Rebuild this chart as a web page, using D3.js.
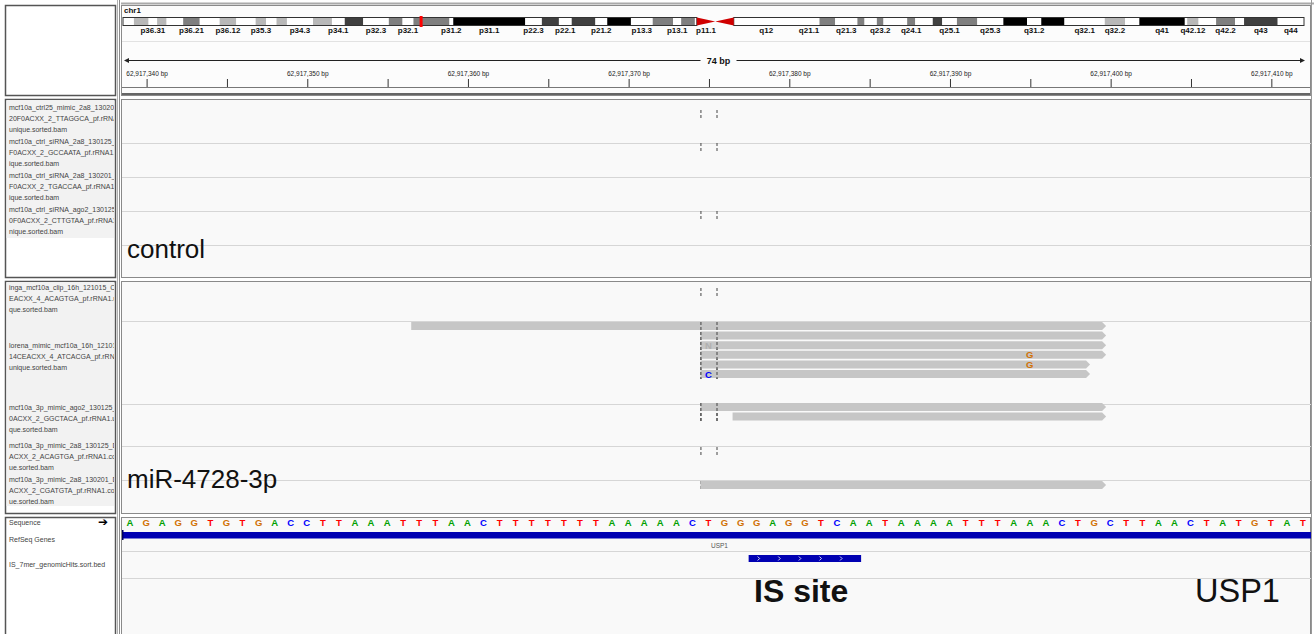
<!DOCTYPE html>
<html>
<head>
<meta charset="utf-8">
<script src="https://cdn.jsdelivr.net/npm/d3@7.9.0/dist/d3.min.js"></script>
<style>
  body { margin: 0; background: #fff; }
  svg { display: block; font-family: "Liberation Sans", Arial, sans-serif; }
</style>
</head>
<body>
<svg id="igv" width="1314" height="634"></svg>
<script>
// chr1 cytobands (hg19), Mb
const bandNames = ['p36.33','p36.32','p36.31','p36.23','p36.22','p36.21','p36.13','p36.12','p36.11','p35.3','p35.2','p35.1','p34.3','p34.2','p34.1','p33','p32.3','p32.2','p32.1','p31.3','p31.2','p31.1','p22.3','p22.2','p22.1','p21.3','p21.2','p21.1','p13.3','p13.2','p13.1','p12','p11.2','p11.1','q11','q12','q21.1','q21.2','q21.3','q22','q23.1','q23.2','q23.3','q24.1','q24.2','q24.3','q25.1','q25.2','q25.3','q31.1','q31.2','q31.3','q32.1','q32.2','q32.3','q41','q42.11','q42.12','q42.13','q42.2','q42.3','q43','q44'];
const bandStarts = [0,2.3,5.4,7.2,9.2,12.7,16.2,20.4,23.9,28,30.2,32.4,34.6,40.1,44.1,46.8,50.7,56.1,59,61.3,68.9,69.7,84.9,88.4,92,94.7,99.7,102.2,107.2,111.8,116.1,117.8,120.7,121.1,125,128.9,142.6,147,150.3,155,156.5,159.1,160.5,165.5,167.2,170.9,172.9,176,180.3,185.8,190.8,193.8,198.7,207.2,211.5,214.5,224.1,224.6,227,230.7,234.7,236.6,243.7];
const bandStains = ['gneg','gpos25','gneg','gpos25','gneg','gpos50','gneg','gpos25','gneg','gpos25','gneg','gpos25','gneg','gpos25','gneg','gpos75','gneg','gpos50','gneg','gpos50','gneg','gpos100','gneg','gpos75','gneg','gpos75','gneg','gpos100','gneg','gpos50','gneg','gpos50','gneg','acen','acen','gvar','gneg','gpos50','gneg','gpos50','gneg','gpos50','gneg','gpos50','gneg','gpos75','gneg','gpos50','gneg','gpos100','gneg','gpos100','gneg','gpos25','gneg','gpos100','gneg','gpos25','gneg','gpos50','gneg','gpos75','gneg'];
const chrLength = 249.250621;
const shownBandLabels = ['p36.31','p36.21','p36.12','p35.3','p34.3','p34.1','p32.3','p32.1','p31.2','p31.1','p22.3','p22.1','p21.2','p13.3','p13.1','p11.1','q12','q21.1','q21.3','q23.2','q24.1','q25.1','q25.3','q31.2','q32.1','q32.2','q41','q42.12','q42.2','q43','q44'];
const viewMb = 62.917;

// locus
const viewStart = 62917339;
const viewBases = 74;
const sequence = 'AGAGGTGTGACCTTAAATTTAACTTTTTTTAAAAACTGGGAGGTCAATAAAATTTAAACTGCTTAACTATGTAT';
const majorTicks = [62917340, 62917350, 62917360, 62917370, 62917380, 62917390, 62917400, 62917410];
const minorTicks = [62917345, 62917355, 62917365, 62917375, 62917385, 62917395, 62917405];
const centerBase = 62917375;

// track names (wrapped as shown)
const controlNames = [
  ['mcf10a_ctrl25_mimic_2a8_130201_D', '20F0ACXX_2_TTAGGCA_pf.rRNA1.', 'unique.sorted.bam'],
  ['mcf10a_ctrl_siRNA_2a8_130125_D2', 'F0ACXX_2_GCCAATA_pf.rRNA1.un', 'ique.sorted.bam'],
  ['mcf10a_ctrl_siRNA_2a8_130201_D2', 'F0ACXX_2_TGACCAA_pf.rRNA1.un', 'ique.sorted.bam'],
  ['mcf10a_ctrl_siRNA_ago2_130125_D', '0F0ACXX_2_CTTGTAA_pf.rRNA1.u', 'nique.sorted.bam']
];
const mirNames = [
  ['inga_mcf10a_clip_16h_121015_C1', 'EACXX_4_ACAGTGA_pf.rRNA1.uni', 'que.sorted.bam'],
  ['lorena_mimic_mcf10a_16h_121015_', '14CEACXX_4_ATCACGA_pf.rRNA1.', 'unique.sorted.bam'],
  ['mcf10a_3p_mimic_ago2_130125_D2', '0ACXX_2_GGCTACA_pf.rRNA1.uni', 'que.sorted.bam'],
  ['mcf10a_3p_mimic_2a8_130125_D20F', 'ACXX_2_ACAGTGA_pf.rRNA1.coniq', 'ue.sorted.bam'],
  ['mcf10a_3p_mimic_2a8_130201_D20F', 'ACXX_2_CGATGTA_pf.rRNA1.coniq', 'ue.sorted.bam']
];

// aligned reads in the miR-4728-3p tracks (end exclusive)
const readTrack = ['lorena', 'lorena', 'lorena', 'lorena', 'lorena', 'lorena', 'ago2', 'ago2', '2a8_0201'];
const readRow   = [0, 1, 2, 3, 4, 5, 0, 1, 0];
const readStart = [62917357, 62917375, 62917375, 62917375, 62917375, 62917375, 62917375, 62917377, 62917375];
const readEnd   = [62917400, 62917400, 62917400, 62917400, 62917399, 62917399, 62917400, 62917400, 62917400];
const mismatchRead = [2, 3, 4, 5];
const mismatchPos  = [62917375, 62917395, 62917395, 62917375];
const mismatchBase = ['N', 'G', 'G', 'C'];

// annotation features
const geneName = 'USP1';
const bedStart = 62917378;
const bedEnd = 62917385;

// ---------- layout ----------
const svg = d3.select('#igv');
const L = 122, R = 1311;
const x = d3.scaleLinear().domain([viewStart, viewStart + viewBases]).range([L, R]);
const bw = x(viewStart + 1) - x(viewStart);
const xi = d3.scaleLinear().domain([0, chrLength]).range([123, 1304]);

const baseColor = { A: '#00a000', C: '#0000ff', G: '#d17105', T: '#ff0000', N: '#b0b0b0' };
const stainColor = { gneg: '#ffffff', gvar: '#ffffff', gpos25: '#b8b8b8', gpos50: '#7f7f7f', gpos75: '#404040', gpos100: '#000000', acen: '#d00000' };

const panels = [
  { key: 'header', top: 5, bottom: 95 },
  { key: 'control', top: 99, bottom: 277 },
  { key: 'mir', top: 281, bottom: 513 },
  { key: 'seq', top: 517, bottom: 640 }
];

const defs = svg.append('defs');
defs.append('clipPath').attr('id', 'nameClip')
  .append('rect').attr('x', 6).attr('y', 0).attr('width', 108).attr('height', 634);
defs.append('clipPath').attr('id', 'dataClip')
  .append('rect').attr('x', L).attr('y', 0).attr('width', R - L).attr('height', 634);

// panel frames
panels.forEach((p) => {
  svg.append('rect').attr('x', 5.5).attr('y', p.top + 0.5).attr('width', 110).attr('height', p.bottom - p.top)
    .attr('fill', '#fff').attr('stroke', '#555').attr('stroke-width', 1.5);
  svg.append('rect').attr('x', 121.5).attr('y', p.top + 0.5).attr('width', 1189).attr('height', p.bottom - p.top)
    .attr('fill', p.key === 'header' ? '#fcfcfc' : '#f9f9f9').attr('stroke', '#8a8a8a').attr('stroke-width', 1);
});
svg.append('line').attr('x1', 117.5).attr('x2', 117.5).attr('y1', 0).attr('y2', 634).attr('stroke', '#b0b0b0');
svg.append('line').attr('x1', 119.5).attr('x2', 119.5).attr('y1', 0).attr('y2', 634).attr('stroke', '#8a8a8a');
svg.append('line').attr('x1', 121).attr('x2', 1314).attr('y1', 3.5).attr('y2', 3.5).attr('stroke', '#aaa').attr('stroke-width', 2);
svg.append('line').attr('x1', 1311.5).attr('x2', 1311.5).attr('y1', 0).attr('y2', 634).attr('stroke', '#999');

// ---------- ideogram ----------
const ideo = svg.append('g');
ideo.append('text').attr('x', 124).attr('y', 13).attr('font-size', 8).attr('font-weight', 'bold').attr('fill', '#111').text('chr1');
const bands = bandNames.map((n, i) => ({ name: n, start: bandStarts[i], end: i + 1 < bandStarts.length ? bandStarts[i + 1] : chrLength, stain: bandStains[i] }));
const by0 = 17.5, bh = 8;
ideo.selectAll('rect.band').data(bands.filter((b) => b.stain !== 'acen')).join('rect')
  .attr('class', 'band').attr('x', (d) => xi(d.start)).attr('y', by0)
  .attr('width', (d) => xi(d.end) - xi(d.start)).attr('height', bh)
  .attr('fill', (d) => stainColor[d.stain]);
const pArm = bands.find((b) => b.name === 'p11.1');
const qCen = bands.find((b) => b.name === 'q11');
ideo.append('rect').attr('x', xi(0)).attr('y', by0).attr('width', xi(pArm.start) - xi(0)).attr('height', bh)
  .attr('fill', 'none').attr('stroke', '#333');
ideo.append('rect').attr('x', xi(qCen.end)).attr('y', by0).attr('width', xi(chrLength) - xi(qCen.end)).attr('height', bh)
  .attr('fill', 'none').attr('stroke', '#333');
ideo.append('path').attr('fill', stainColor.acen)
  .attr('d', `M${xi(pArm.start)},${by0}L${xi(pArm.end)},${by0 + bh / 2}L${xi(pArm.start)},${by0 + bh}Z`);
ideo.append('path').attr('fill', stainColor.acen)
  .attr('d', `M${xi(qCen.end)},${by0}L${xi(qCen.start)},${by0 + bh / 2}L${xi(qCen.end)},${by0 + bh}Z`);
ideo.append('rect').attr('x', xi(viewMb) - 1.5).attr('y', by0 - 1.5).attr('width', 3).attr('height', bh + 3).attr('fill', '#f00');
ideo.selectAll('text.bl').data(bands.filter((b) => shownBandLabels.includes(b.name))).join('text')
  .attr('class', 'bl').attr('x', (d) => xi((d.start + d.end) / 2)).attr('y', 32.5)
  .attr('text-anchor', 'middle').attr('font-size', 8).attr('font-weight', 'bold').attr('fill', '#111')
  .text((d) => d.name);
svg.append('line').attr('x1', 122).attr('x2', 1310).attr('y1', 41.5).attr('y2', 41.5).attr('stroke', '#e2e2e2');

// ---------- ruler ----------
const ruler = svg.append('g');
const spanMid = (L + R) / 2 + 2;
ruler.append('text').attr('x', spanMid).attr('y', 63.5).attr('text-anchor', 'middle')
  .attr('font-size', 9).attr('font-weight', 'bold').attr('fill', '#111').text(`${viewBases} bp`);
ruler.append('line').attr('x1', 126).attr('x2', spanMid - 18).attr('y1', 60.5).attr('y2', 60.5).attr('stroke', '#222');
ruler.append('line').attr('x1', spanMid + 18).attr('x2', 1302).attr('y1', 60.5).attr('y2', 60.5).attr('stroke', '#222');
ruler.append('path').attr('d', 'M124,60.5L129,58L129,63Z').attr('fill', '#222');
ruler.append('path').attr('d', 'M1305,60.5L1300,58L1300,63Z').attr('fill', '#222');
const tx = (p) => x(p) + bw / 2 + 1;
ruler.selectAll('line.tk').data(majorTicks.concat(minorTicks)).join('line')
  .attr('class', 'tk').attr('x1', tx).attr('x2', tx).attr('y1', 79).attr('y2', 87).attr('stroke', '#333');
ruler.selectAll('text.tl').data(majorTicks).join('text')
  .attr('class', 'tl').attr('x', tx).attr('y', 76).attr('text-anchor', 'middle')
  .attr('font-size', 6.5).attr('fill', '#222').text((d) => `${d3.format(',')(d)} bp`);
ruler.append('line').attr('x1', 122).attr('x2', 1310).attr('y1', 87.5).attr('y2', 87.5).attr('stroke', '#777');
svg.append('line').attr('x1', 122).attr('x2', 1310).attr('y1', 94).attr('y2', 94).attr('stroke', '#666').attr('stroke-width', 2);

// ---------- track names ----------
function drawNames(names, firstLine, trackGap, lineGap, bgTop, bgBottom, tops) {
  const g = svg.append('g').attr('clip-path', 'url(#nameClip)');
  g.append('rect').attr('x', 6.5).attr('y', bgTop).attr('width', 108).attr('height', bgBottom - bgTop).attr('fill', '#f2f2f2');
  names.forEach((lines, i) => {
    const y0 = tops ? tops[i] : firstLine + i * trackGap;
    g.selectAll(null).data(lines).join('text')
      .attr('x', 9).attr('y', (d, j) => y0 + j * lineGap + 2.5)
      .attr('font-size', 7).attr('fill', '#444').text((d) => d);
  });
}
drawNames(controlNames, 107, 34, 11.4, 100, 238);
drawNames(mirNames, 0, 0, 11.4, 282, 506, [287, 345, 407, 445, 479]);

// ---------- data panels ----------
const dataG = svg.append('g').attr('clip-path', 'url(#dataClip)');
const sepLines = [143, 177, 211, 245, 321, 404, 446, 480];
dataG.selectAll('line.sep').data(sepLines).join('line').attr('class', 'sep')
  .attr('x1', L).attr('x2', R).attr('y1', (d) => d + 0.5).attr('y2', (d) => d + 0.5).attr('stroke', '#d6d6d6');

// center line markers (empty tracks and read stacks)
const centerMarks = [[110, 118], [143, 151], [211, 219], [288, 297], [322, 379], [403, 421], [447, 455], [481, 489]];
[centerBase, centerBase + 1].forEach((p) => {
  dataG.selectAll(null).data(centerMarks).join('line')
    .attr('x1', x(p) + 0.5).attr('x2', x(p) + 0.5).attr('y1', (d) => d[0]).attr('y2', (d) => d[1])
    .attr('stroke', '#444').attr('stroke-dasharray', '3,2');
});

// reads
const trackTop = { lorena: 322, ago2: 403, '2a8_0201': 481 };
const rowH = 9.6, readH = 8;
const reads = readStart.map((s, i) => ({ start: s, end: readEnd[i], y: trackTop[readTrack[i]] + readRow[i] * rowH }));
dataG.selectAll('path.read').data(reads).join('path').attr('class', 'read')
  .attr('fill', '#c6c6c6')
  .attr('d', (d) => {
    const x0 = x(d.start), x1 = x(d.end);
    return `M${x0},${d.y}H${x1}L${x1 + 4},${d.y + readH / 2}L${x1},${d.y + readH}H${x0}Z`;
  });
// redraw center lines over reads
[centerBase, centerBase + 1].forEach((p) => {
  dataG.selectAll(null).data(centerMarks.filter((d) => d[1] - d[0] > 9)).join('line')
    .attr('x1', x(p) + 0.5).attr('x2', x(p) + 0.5).attr('y1', (d) => d[0]).attr('y2', (d) => d[1])
    .attr('stroke', '#444').attr('stroke-dasharray', '3,2');
});
dataG.selectAll('text.mm').data(mismatchRead.map((r, i) => ({ read: reads[r], pos: mismatchPos[i], base: mismatchBase[i] })))
  .join('text').attr('class', 'mm')
  .attr('x', (d) => x(d.pos) + bw / 2).attr('y', (d) => d.read.y + readH - 0.5)
  .attr('text-anchor', 'middle').attr('font-size', 9.5).attr('font-weight', 'bold')
  .attr('fill', (d) => baseColor[d.base]).text((d) => d.base);

// big annotations
svg.append('text').attr('x', 127).attr('y', 258).attr('font-size', 26).attr('fill', '#111').text('control');
svg.append('text').attr('x', 127).attr('y', 488).attr('font-size', 26).attr('fill', '#111').text('miR-4728-3p');

// ---------- sequence / genes ----------
const seqNames = [['Sequence', 525], ['RefSeq Genes', 542], ['IS_7mer_genomicHits.sort.bed', 567]];
svg.selectAll('text.sn').data(seqNames).join('text').attr('class', 'sn')
  .attr('x', 9).attr('y', (d) => d[1]).attr('font-size', 7).attr('fill', '#444').text((d) => d[0]);
svg.append('text').attr('x', 98).attr('y', 526).attr('font-size', 12).attr('fill', '#000').text('\u2794');

dataG.selectAll('text.base').data(sequence.split('')).join('text').attr('class', 'base')
  .attr('x', (d, i) => x(viewStart + i) + bw / 2).attr('y', 525.5)
  .attr('text-anchor', 'middle').attr('font-size', 9.5).attr('font-weight', 'bold')
  .attr('fill', (d) => baseColor[d]).text((d) => d);

dataG.append('rect').attr('x', L).attr('y', 532).attr('width', R - L).attr('height', 6.5).attr('fill', '#0000b2');
dataG.append('rect').attr('x', L).attr('y', 530).attr('width', 1.5).attr('height', 10).attr('fill', '#000066');
dataG.append('text').attr('x', (L + R) / 2 + 3).attr('y', 548).attr('text-anchor', 'middle')
  .attr('font-size', 6.5).attr('fill', '#555').text(geneName);
dataG.selectAll('line.sep2').data([551, 578]).join('line').attr('class', 'sep2')
  .attr('x1', L).attr('x2', R).attr('y1', (d) => d + 0.5).attr('y2', (d) => d + 0.5).attr('stroke', '#d6d6d6');

dataG.append('rect').attr('x', x(bedStart)).attr('y', 555).attr('width', x(bedEnd) - x(bedStart)).attr('height', 7).attr('fill', '#0000b2');
dataG.selectAll('path.chev').data(d3.range(x(bedStart) + 10, x(bedEnd) - 10, 20.6)).join('path').attr('class', 'chev')
  .attr('d', (d) => `M${d - 1},556.5L${d + 1},558.5L${d - 1},560.5`).attr('fill', 'none').attr('stroke', '#fff').attr('stroke-width', 0.8);

svg.append('text').attr('x', 754).attr('y', 602).attr('font-size', 32).attr('font-weight', 'bold').attr('fill', '#111').text('IS site');
svg.append('text').attr('x', 1195).attr('y', 602).attr('font-size', 32.5).attr('fill', '#111').text(geneName);
</script>
</body>
</html>
